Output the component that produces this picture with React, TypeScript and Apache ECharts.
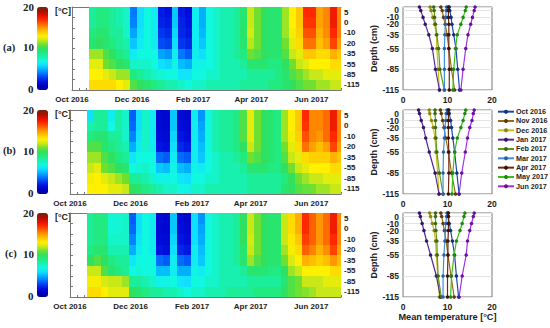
import React, { useEffect, useRef } from "react";
import * as echarts from "echarts";

const depths = [5, 0, -10, -20, -35, -55, -85, -115];
const depthLabels = ["5", "0", "-10", "-20", "-35", "-55", "-85", "-115"];
const monthTickDays = [0, 61, 123, 182, 243];
const monthTickLabels = ["Oct 2016", "Dec 2016", "Feb 2017", "Apr 2017", "Jun 2017"];
const firstDay = 17;
const lastDay = 273;
const weekDays = 7;

const heatA = [
  [8.5,9,9,8.5,8,7.5,4,6,7,6.5,2.2,2,5.5,2.2,1.8,6.5,5,7,7.5,8,8,8.5,9.5,12,11,10,9.5,9.5,11.5,13,14,17,17,14.8,15.3,17.5,15.3],
  [8.5,9,9,8.5,8,7.5,4.2,6,7,6.5,2.4,2.2,5.5,2.4,2,6.5,5,7,7.5,8,8,8.5,9.5,12,11,10,9.5,9.5,11.5,13,14,16.8,16.8,14.8,15.3,17.5,15.3],
  [9,9.5,9.5,8.5,8.5,7.5,4.8,6.2,7,6.5,2.8,2.5,5.8,2.5,2.2,6.5,5.2,7,7.5,8,8,8.5,9.5,12.2,11,10,9.5,9.5,11.5,12.8,13.8,16.3,16.3,14.5,15.2,17,15.3],
  [9.5,10,9.5,9,8.5,8,5.5,6.5,7,6.5,3.2,3,6,2.8,2.5,6.5,5.5,7,7.5,8,8,8.5,9.5,11.8,11,10,9.5,9.5,11,12.5,13.5,15.7,15.7,14.2,14.8,16.5,14.8],
  [11.5,11.5,10.5,10,9,8.5,6.5,7,7,7,4.8,4.5,6.5,4,3.5,6.5,6,7,7.5,8,8,8.5,9,11,10.5,10,9.5,9.5,10.5,12,12.5,14,14,13.5,13.5,14.5,14],
  [12.5,12.5,11,10.5,10,9.5,7.5,7.5,7.5,7,6,5.8,6.8,5.3,5,6.8,6.8,7,7.5,8,8,8,8.5,9.5,9.5,9.5,9,9,10,11,12,12.5,13,13,13,13.5,13.5],
  [13,13,12.5,12,11.5,11.5,9,8.5,8,7.5,7.2,7,7,6.2,6.2,7,7,7.5,7.5,8,8,8,8,8.5,8.5,8.5,8.5,9,9.5,10.5,11,11.5,12,12,12.5,12.5,12.5],
  [13.5,13.5,13.5,13.5,13,12.5,10.5,10,9.5,9,8.5,8,8,7.5,7,7.5,7.5,8,8,8,8,8,8.5,8.5,8.5,8.5,9,9,9.5,10,10.5,11,11,11.5,11.5,12,12],
];
const heatB = [
  [6,8.5,8.5,6.5,8.2,7.5,3.5,6,7.5,6.5,1.6,1.5,5.5,1.7,1.5,6.5,4.5,7,8,8.5,8.5,9,10.5,12.5,11,10,9.5,9,11.5,13,14,17,15.3,15.3,15.8,17.5,15.3],
  [8,8.5,8.5,7,8.2,7.5,3.7,6,7.5,6.5,1.6,1.5,5.5,1.8,1.6,6.5,4.8,7,8,8.5,8.5,9,10.5,12.5,11,10,9.5,9,11.5,13,14,16.8,15.3,15.3,15.8,17.5,15.3],
  [9,9.5,9.5,8.5,8.5,7.5,4.2,6.2,7.5,6.5,1.8,1.6,5.8,2.1,1.8,6.5,5,7,8,8.5,8.5,9,10.5,12.5,11,10,9.5,9,11.5,12.8,13.8,16.3,15.3,15,15.8,17,15.3],
  [10.5,10.5,9.5,9,8.5,8,5,6.5,7.5,6.5,2.1,1.9,6,2.5,2.2,6.5,5.3,7,8,8.5,8.5,9,10,12,11,10,9.5,9,11,12.5,13.5,15.7,14.8,14.2,14.8,16.5,14.8],
  [11.5,11.5,10.5,10,9,8.5,6.2,7,7,7,3.8,3.5,6.5,3.8,3.5,6.5,5.5,7,7.5,8,8,8.5,9,11,10.5,10,9.5,9,10.5,12,12.5,13.5,13.8,13.8,13.8,14.5,14],
  [12,12.5,11,10.5,10,9.5,7,7.2,7.5,7,5.5,5.3,6.8,5.3,5,6.8,6.5,7,7.5,8,8,8,8.5,9.5,9.5,9.5,9,9,10,11,12,12.5,13,13,13,13.5,13.5],
  [12.8,13,12.5,12,11.5,11,8.5,8.5,8,7.5,6.8,6.8,7,6.2,6,7,7,7.5,7.5,8,8,8,8,8.5,8.5,8.5,8.5,8.5,9,10,11,11.5,12,12,12.5,12.5,12.5],
  [13,13,13,12.5,12.5,12,10,9.5,9,8.5,8,7.5,7.5,7,6.8,7.5,7.5,8,8,8,8,8,8,8.5,8.5,8.5,8.5,8.5,9.5,10,10.5,10.8,11,11.5,11.5,12,12],
];
const heatC = [
  [8.5,9,9,7.2,7.2,7.5,3.5,6,7,6.5,1.6,1.5,5.5,1.7,1.5,6,4.5,7,7.5,8,8,8.5,10,12,11,10,9.5,9.5,12,13.5,14.5,17,16,15,15.8,17.5,15.3],
  [8.5,9,9,7.2,7.2,7.5,3.7,6,7,6.5,1.6,1.5,5.5,1.8,1.6,6,4.8,7,7.5,8,8,8.5,10,12,11,10,9.5,9.5,12,13.5,14.5,17,16,15,15.8,17.5,15.3],
  [8.5,9,9,7.5,7.5,7.5,4.2,6.2,7,6.5,1.8,1.6,5.8,2.1,1.8,6,5,7,7.5,8,8,8.5,10,12.2,11,10,9.5,9.5,12,13.2,14,16.6,16,15,15.8,17,15.3],
  [9,9.5,9.5,8,8,8,5,6.5,7,6.5,2.1,1.9,6,2.5,2.2,6.5,5.3,7,7.5,8,8,8.5,9.5,12,11,10,9.5,9.5,11.5,12.8,13.5,16,15.4,14.5,15.2,16.5,14.8],
  [10,10.5,10,9,8.5,8.5,6.2,7,7,7,3.8,3.5,6.5,3.8,3.5,6.5,5.5,7,7.5,8,8,8.5,9.5,11.5,10.5,10,9.5,9.5,11,12.3,13,14.5,14.2,13.8,14.2,15,14.2],
  [12,12,10.5,9.5,9,8.5,7,7.2,7,7,5.3,5.3,6.5,5,5,6.8,6.5,7,7.5,8,8,8,8.5,9.5,9.5,9.5,9,9,10,11.5,12,13,13,13,13,13.5,13.5],
  [12.8,12.8,12.3,12,12,11.5,8.5,8.5,8,7.5,6.8,6.8,7,6.2,6,7,7,7.5,7.5,8,8,8,8,8.5,8.5,8.5,8.5,8.5,9.5,10.5,11,12,12,12,12.5,12.5,12.5],
  [13.5,13.5,13,12.5,12.5,12.5,10,9.5,9,8.5,8.5,8,8,7.5,7,7.5,7.5,8,8,8,8.5,8.5,8.5,8.5,9,9,9,9,10,10.5,11,11.2,11.5,12,12,12,12],
];

const months = ["Oct 2016", "Nov 2016", "Dec 2016", "Jan 2017", "Feb 2017", "Mar 2017", "Apr 2017", "May 2017", "Jun 2017"];
const monthColors = ["#1f45b0", "#9a6a10", "#c8c018", "#53299a", "#5f9a18", "#3f8fe0", "#6a2a10", "#38c018", "#a030e0"];
const markerColors = ["#14307a", "#5a3c08", "#8a8410", "#35146c", "#3c6a0c", "#2a60a8", "#3a1408", "#208810", "#6a10a8"];

const profA = [
  [10.4,10.5,10.8,11,11.4,11.9,12.3,12.7],
  [8.5,8.8,9.1,9.5,9.9,10.3,10.9,11.6],
  [6.1,6.3,6.7,7.1,7.5,7.6,7.9,8.2],
  [3.7,4,4.5,5,5.8,6.6,7.3,8.2],
  [6.9,7,7.1,7.3,7.6,8,8.3,9.3],
  [9.8,9.7,9.6,9.5,9.4,9.3,9.3,9.3],
  [10.2,10.2,10.2,10.3,10.3,10.3,10.4,10.4],
  [14.2,14,13.5,13,12.2,11.8,11.4,11.2],
  [16.2,16,15.6,15.2,14.6,14.1,13.5,13],
];
const profB = [
  [10.3,10.4,10.7,10.9,11.2,11.6,12.1,12.6],
  [8.4,8.6,8.9,9.2,9.6,10.2,10.9,11.8],
  [5.9,6,6.4,6.8,7.2,7.4,7.8,8.1],
  [3.5,3.7,4.1,4.6,5.1,5.9,7.2,8.1],
  [7.2,7.2,7.3,7.3,7.4,7.6,8.2,9],
  [9.9,9.7,9.6,9.4,9.3,9.1,9,9],
  [10.2,10.2,10.2,10.2,10.2,10.3,10.3,10.2],
  [14.1,13.9,13.5,13,12.2,11.6,11.2,11],
  [16,15.8,15.5,15,14.5,14,13.2,12.6],
];
const profC = [
  [10.1,10.2,10.4,10.7,11.1,11.6,12,12.5],
  [8.5,8.7,9,9.3,9.7,10.1,10.8,11.5],
  [6,6.2,6.6,7,7.3,7.5,7.8,8.2],
  [3.7,3.9,4.3,4.7,5.3,6.2,7.5,8.4],
  [7.3,7.3,7.3,7.4,7.6,7.7,7.9,8.6],
  [9.9,9.8,9.6,9.5,9.4,9.2,9,9],
  [10.2,10.2,10.2,10.2,10.1,10.1,10,10],
  [13.9,13.7,13.3,12.8,12,11.5,10.9,10.7],
  [16,15.8,15.4,15,14.5,14.2,13.3,12.6],
];
const colorScale = ["#000090","#0000c0","#0010e0","#0040f0","#0078ff","#00b0ff","#10e0ff","#10f8e0","#18f0b0","#20ea80","#30e060","#70e030","#c8e818","#fff000","#ffc800","#ff9800","#ff6000","#ff2800","#e01000","#a81000","#6a2810"];

const heats = [heatA, heatB, heatC];
const profiles = [profA, profB, profC];
const panelNames = ["(a)", "(b)", "(c)"];
const panelLeft = [72, 70, 70];
const panelTop = [7, 110, 213];
const panelBottom = [90, 194, 297];
const SANS = "Liberation Sans";
const SERIF = "Liberation Serif";
const AXIS_GRAY = "#777";

function renderCell(_p: any, api: any) {
  const a = api.coord([api.value(0), api.value(2)]);
  const b = api.coord([api.value(1), api.value(2)]);
  const h = api.size([0, 1])[1];
  const y0 = Math.round(a[1] - h / 2);
  const y1 = Math.round(a[1] + h / 2);
  const x0 = Math.round(a[0]);
  const x1 = Math.round(b[0]);
  return {
    type: "rect",
    shape: { x: x0, y: y0, width: x1 - x0, height: y1 - y0 },
    style: { fill: api.visual("color") },
  };
}

function buildOption() {
  const grid: any[] = [];
  const xAxis: any[] = [];
  const yAxis: any[] = [];
  const series: any[] = [];
  const visualMap: any[] = [];
  const graphic: any[] = [];
  const labelStyle = { fontFamily: SANS, fontWeight: "bold", fontSize: 8, color: "#222" };

  heats.forEach((rows, p) => {
    const top = panelTop[p];
    const h = panelBottom[p] - top;
    const gridIdx = grid.length;
    grid.push({ left: panelLeft[p], top, width: 341 - panelLeft[p], height: h, show: false });
    const xi = xAxis.length;
    xAxis.push({
      gridIndex: gridIdx, type: "value", min: 0, max: lastDay, interval: weekDays, position: "bottom",
      axisLine: { show: true, lineStyle: { color: AXIS_GRAY, width: 1 } },
      axisTick: { show: true, inside: true, length: 2, lineStyle: { color: AXIS_GRAY } },
      splitLine: { show: false },
      axisLabel: {
        show: true, ...labelStyle, margin: 5, customValues: monthTickDays,
        formatter: (v: number) => monthTickLabels[monthTickDays.indexOf(v)] ?? "",
      },
    });
    xAxis.push({
      gridIndex: gridIdx, type: "value", min: 0, max: lastDay, position: "top",
      axisLine: { show: true, lineStyle: { color: AXIS_GRAY, width: 1 } },
      axisTick: { show: false }, axisLabel: { show: false }, splitLine: { show: false },
    });
    const yr = yAxis.length;
    yAxis.push({
      gridIndex: gridIdx, type: "category", data: depthLabels, inverse: true, position: "right",
      axisLine: { show: false }, axisTick: { show: false }, splitLine: { show: false },
      axisLabel: { ...labelStyle, margin: 3, align: "left", interval: 0 },
    });
    yAxis.push({
      gridIndex: gridIdx, type: "category", data: depthLabels, inverse: true, position: "left",
      axisLine: { show: true, lineStyle: { color: AXIS_GRAY } },
      axisTick: { show: true, inside: true, length: 3, interval: 0, lineStyle: { color: AXIS_GRAY } },
      axisLabel: { show: false }, splitLine: { show: false },
    });
    const data: number[][] = [];
    rows.forEach((row, r) => {
      row.forEach((v, c) => {
        const start = firstDay + c * weekDays;
        data.push([start, Math.min(start + weekDays, lastDay), r, v]);
      });
    });
    const sIdx = series.length;
    series.push({
      type: "custom", xAxisIndex: xi, yAxisIndex: yr, renderItem: renderCell, data,
      encode: { x: [0, 1], y: 2 }, clip: true, z: 1, silent: true,
    });
    visualMap.push({
      type: "continuous", min: 0, max: 20, dimension: 3, seriesIndex: sIdx, show: true,
      calculable: false, left: 37, top, itemWidth: 11, itemHeight: h, text: ["", ""], padding: 0,
      inRange: { color: colorScale }, textStyle: { fontSize: 1 },
    });
    const serifLabel = { fontFamily: SERIF, fontWeight: "bold", fontSize: 11, fill: "#222" };
    graphic.push(
      { type: "text", left: 23, top: top - 6, style: { text: "20", ...serifLabel } },
      { type: "text", left: 23, top: top + h / 2 - 7, style: { text: "10", ...serifLabel } },
      { type: "text", left: 28, top: top + h - 7, style: { text: "0", ...serifLabel } },
      { type: "text", left: p === 2 ? 5 : 3, top: top + h / 2 - 7, style: { text: panelNames[p], ...serifLabel, fontSize: 10.5 } },
      { type: "text", left: 55, top: top - 1, style: { text: "[°C]", fontFamily: SANS, fontWeight: "bold", fontSize: 9, fill: "#222" } },
    );
  });

  profiles.forEach((prof, p) => {
    const top = panelTop[p];
    const h = panelBottom[p] - top;
    const gridIdx = grid.length;
    grid.push({ left: 403, top, width: 89, height: h, show: true, borderColor: AXIS_GRAY, borderWidth: 1 });
    const xi = xAxis.length;
    xAxis.push({
      gridIndex: gridIdx, type: "value", min: 0, max: 20, interval: 10, position: "bottom",
      axisLine: { show: false }, axisTick: { show: false }, splitLine: { show: false },
      axisLabel: { ...labelStyle, fontSize: 8.5, margin: 5 },
      ...(p === 2 ? { name: "Mean temperature [°C]", nameLocation: "middle", nameGap: 15,
        nameTextStyle: { fontFamily: SANS, fontWeight: "bold", fontSize: 9.2, color: "#222" } } : {}),
    });
    const yi = yAxis.length;
    yAxis.push({
      gridIndex: gridIdx, type: "value", min: -115, max: 5, position: "left",
      axisLine: { show: false },
      axisTick: { show: false, customValues: depths },
      splitLine: { show: true, lineStyle: { color: "#e4e4e4", width: 1 } },
      axisLabel: { ...labelStyle, fontSize: 8.5, margin: 4, customValues: depths },
      name: "Depth (cm)", nameLocation: "middle", nameRotate: 90, nameGap: p === 2 ? 25 : 22,
      nameTextStyle: { fontFamily: SANS, fontWeight: "bold", fontSize: 9, color: "#222" },
    });
    prof.forEach((vals, m) => {
      series.push({
        type: "line", name: months[m], xAxisIndex: xi, yAxisIndex: yi,
        data: vals.map((v, i) => [v, depths[i]]),
        symbol: "circle", symbolSize: 3.5, showSymbol: true, clip: false, silent: true,
        lineStyle: { color: monthColors[m], width: 1.2 },
        itemStyle: { color: markerColors[m] },
        z: 2 + m,
      });
    });
  });

  return {
    animation: false,
    backgroundColor: "#fff",
    textStyle: { fontFamily: SANS },
    grid, xAxis, yAxis, series, visualMap, graphic,
    legend: {
      data: months.map((name) => ({ name, itemStyle: { color: markerColors[months.indexOf(name)] } })),
      orient: "vertical", left: 497, top: 107, padding: 0,
      itemWidth: 16, itemHeight: 5, itemGap: 0, selectedMode: false,
      textStyle: { fontFamily: SANS, fontWeight: "bold", fontSize: 7.2, color: "#222", lineHeight: 9.33, height: 9.33, padding: [0, 0, 0, -3] },
    },
  };
}

export default function App() {
  const ref = useRef<HTMLDivElement>(null);
  useEffect(() => {
    const chart = echarts.init(ref.current!, undefined, { renderer: "svg" });
    chart.setOption(buildOption() as any);
    return () => chart.dispose();
  }, []);
  return <div ref={ref} style={{ position: "absolute", left: 0, top: 0, width: 550, height: 328 }} />;
}
